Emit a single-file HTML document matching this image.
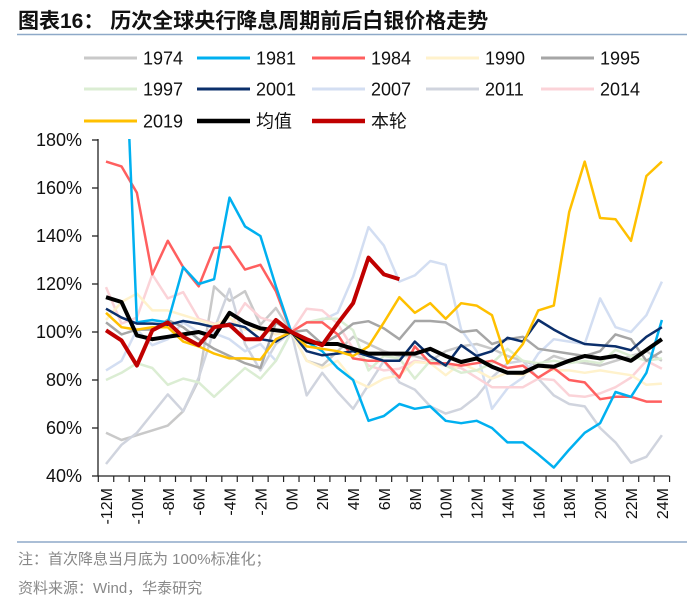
<!DOCTYPE html>
<html><head><meta charset="utf-8">
<style>
html,body{margin:0;padding:0;background:#fff;}
body{width:700px;height:603px;overflow:hidden;font-family:"Liberation Sans","Noto Sans CJK SC",sans-serif;}
</style></head>
<body>
<svg width="700" height="603" viewBox="0 0 700 603" xmlns="http://www.w3.org/2000/svg">
<defs><clipPath id="pc"><rect x="98" y="139" width="580" height="338"/></clipPath></defs>
<text x="18" y="28" font-size="21" font-weight="bold" fill="#111" font-family="Liberation Sans,Noto Sans CJK SC,sans-serif">图表16：  历次全球央行降息周期前后白银价格走势</text>
<line x1="17" y1="34.5" x2="687" y2="34.5" stroke="#8ea9c8" stroke-width="1.5"/>
<g id="legend"></g>
<g id="axes"></g>
<g id="series" clip-path="url(#pc)"></g>
<line x1="17" y1="542" x2="687" y2="542" stroke="#8ea9c8" stroke-width="1.5"/>
<text x="18" y="564" font-size="15" fill="#888">注：首次降息当月底为 100%标准化；</text>
<text x="18" y="593" font-size="15" fill="#888">资料来源：Wind，华泰研究</text>
</svg>
<script>
const categories = [];
for (let m = -12; m <= 24; m++) categories.push(m + 'M');
const yTicks = [40, 60, 80, 100, 120, 140, 160, 180];
const s1974 = [58,55,57,59,61,67,80,119,113,117,103,110,100,88,86,92,98,95,92,90,90,88,92,94,95,93,90,88,86,90,88,87,86,88,90,92,88];
const s1981 = [null,260,104,105,104,127,120,122,156,144,140,119,100,96,92,85,80,63,65,70,68,69,63,62,63,60,54,54,49,43.5,51,58,62,75,73,83,105];
const s1984 = [171,169,158,124,138,127,119,135,135.6,126,128,117,100,104,104,99,89,88,88,81,94,87,87,86,87,88,85,86,81,85,80,79,72,73,73,71,71];
const s1990 = [105,112.5,116,109,109,107,105,103,106,101,101,99,100,88,85,88,80,77,80.6,82,87.5,87,82,87,84,80.6,83,82,86,84,84,83,84,83,82,78,78.5];
const s1995 = [104,99,101,101,105,102,97,93,90,87,85,104,100,100.7,95,98.6,103.5,104.5,101.5,97,104.6,104.6,104,100,100.7,95,97,98,93,92,91,90,92,99,97,88,92];
const s1997 = [80,83,87,85,78,80.6,79,73,79,85,80.6,88,100,104,105.5,105.5,100.7,84,90,89,80.6,88,86,83,84,87,93,88,87,88,87,88,87,92.6,90,88,89];
const s2001 = [109.7,106,103.5,103.5,103,104.6,103.5,102,103.5,102,97,96,100,92,90.3,91,92,90,88,88,96,90,86,94.5,90,92,97.6,96,105,101,97.6,95,94.5,94,92.4,98,102];
const s2007 = [84,88,101,94.5,97,104,100,99.5,97,92,95,88,100,104,105,108,123,143.7,136,121,123.6,129.6,128,101,92,68,76.5,81,91,97,96,95,114,102,100,107,121];
const s2011 = [45,53,58,66,74,67,81,101,118,95,84,95,100,73.6,83,75,68,78,88,79,76,69,66,68,73,81,87,88,80.6,73.6,70,69,60,54,45.5,48,57];
const s2014 = [118.7,103.5,106,124,114,116.6,105.5,103.5,102,112,106,104,100,109.7,109,103.5,93,86,84,84.7,88,87,86,85,81,77,77,77,80.6,80,73.6,73,74.4,77,81,88,84.7];
const s2019 = [108,102,101,102,102,96,94,91,89,89,88.5,97,100,94,93,92,90,94,104,114.5,108,112,105.5,112,111,107,87,95,109,111,150,171,147.5,147,138,165,171];
const sMean = [114.5,112.5,98.6,97,98,99,100,98,108,104,101.5,100.7,100,96,95,95,93,91,91,91,91,93,90,87.5,89,85.5,83,83,86,85.5,88,90,89,90,88,92.5,97];
const sCurrent = [100.7,96.5,86,100.7,104,98,94.5,102,103,97,97,105,100,97,94.5,103.5,112,131,124,122];
const seriesNames = ['1974','1981','1984','1990','1995','1997','2001','2007','2011','2014','2019','均值','本轮'];
const seriesData = [s1974,s1981,s1984,s1990,s1995,s1997,s2001,s2007,s2011,s2014,s2019,sMean,sCurrent];
const colors = ['#c9c9c9','#00b0f0','#ff5f5f','#fff2cc','#a6a6a6','#dbedd3','#0b2f6b','#d3def2','#d0d4de','#fbd3d8','#ffc000','#000000','#c00000'];
const widths = [2.5,2.5,2.5,2.5,2.5,2.5,2.5,2.5,2.5,2.5,2.5,4,4];
const drawOrder = [0,8,7,9,3,5,4,2,1,6,10,11,12];

const NS = 'http://www.w3.org/2000/svg';
const X0 = 98.3, STEP = 15.44;
function xScale(i){ return X0 + STEP*(i+0.5); }
function yScale(v){ return 476 - (v-40)*2.4; }
function mk(tag, attrs, parent){ const e=document.createElementNS(NS,tag); for(const k in attrs) e.setAttribute(k,attrs[k]); parent.appendChild(e); return e; }

const axes = document.getElementById('axes');
const yAxis = mk('line',{x1:98,y1:139,x2:98,y2:476,stroke:'#222','stroke-width':1.3},axes);


const xAxis = mk('line',{x1:98,y1:476,x2:X0+STEP*categories.length,y2:476,stroke:'#222','stroke-width':1.3},axes);


yTicks.forEach(t=>{
  const y=yScale(t);
  const tk=mk('line',{x1:92,y1:y,x2:98,y2:y,stroke:'#222','stroke-width':1.3},axes);
  
  
  const lb=mk('text',{x:82,y:y+6,'font-size':18,'text-anchor':'end',fill:'#111'},axes);
  lb.textContent=t+'%';
  
  
});
for(let i=0;i<=categories.length;i++){
  const x=X0+STEP*i;
  const tk=mk('line',{x1:x,y1:476,x2:x,y2:482,stroke:'#222','stroke-width':1.2},axes);
  
  
}
categories.forEach((c,i)=>{
  if(i%2) return;
  const x=xScale(i)+6, y=488;
  const lb=mk('text',{x:x,y:y,'font-size':16,'text-anchor':'end',fill:'#111',transform:`rotate(-90 ${x} ${y})`},axes);
  lb.textContent=c;
  
  
});

const sg = document.getElementById('series');
drawOrder.forEach(k=>{
  const d=seriesData[k]; let pts=[];
  d.forEach((v,i)=>{ if(v!==null) pts.push(xScale(i).toFixed(1)+','+yScale(v).toFixed(1)); });
  const pl=mk('polyline',{points:pts.join(' '),fill:'none',stroke:colors[k],'stroke-width':widths[k],'stroke-linejoin':'round'},sg);
  
  
});

const lg=document.getElementById('legend');
const colLine=[84,197,312,426,541];
seriesNames.forEach((n,k)=>{
  const r=Math.floor(k/5), c=k%5, y=[58,89,121][r];
  const ln=mk('line',{x1:colLine[c],y1:y,x2:colLine[c]+53,y2:y,stroke:colors[k],'stroke-width':k>=11?4.5:3},lg);
  
  
  const t=mk('text',{x:colLine[c]+59,y:y+6.5,'font-size':18,fill:'#111'},lg);
  t.textContent=n;
  
  
});
</script>
</body></html>
